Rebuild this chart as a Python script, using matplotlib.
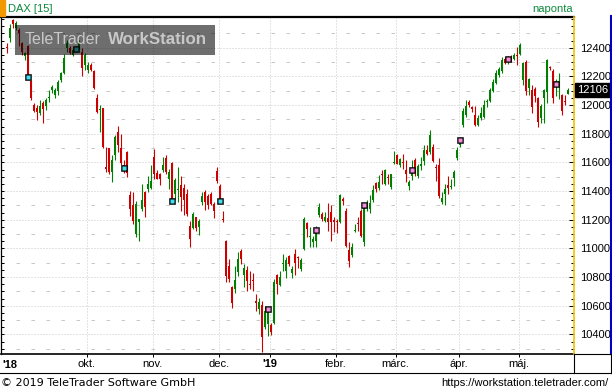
import numpy as np
import matplotlib
matplotlib.use("Agg")
import matplotlib.pyplot as plt
from matplotlib.patches import Rectangle
from matplotlib.lines import Line2D
from matplotlib.ticker import MultipleLocator, FixedLocator
from matplotlib.transforms import blended_transform_factory

# DAX napi gyertyak (index = kereskedesi nap), a kepről leolvasva
opens = [12405, 12467, 12596, 12540, 12525, 12432, 12345, 12409, 12170, 12000,
         11979, 11946, 12016, 11995, 12047, 12105, 12070, 12098, 12175, 12222,
         12397, 12397, 12350, 12380, 12397, 12373, 12280, 12245, 12280, 12238,
         12047, 11968, 11977, 11568, 11697, 11533, 11650, 11813, 11697, 11580,
         11673, 11369, 11299, 11101, 11182, 11276, 11392, 11416, 11423, 11638,
         11526, 11516, 11545, 11627, 11486, 11596, 11381, 11404, 11439, 11423,
         11381, 11159, 11143, 11217, 11147, 11320, 11390, 11362, 11376, 11311,
         11537, 11432, 11208, 11054, 10879, 10727, 10716, 10832, 10980, 10816,
         10849, 10748, 10776, 10630, 10575, 10605, 10451, 10472, 10465, 10481,
         10813, 10744, 10890, 10844, 10949, 10825, 10960, 10940, 10856, 10996,
         11175, 11080, 11042, 11049, 11236, 11241, 11194, 11213, 11252, 11199,
         11187, 11182, 11346, 11264, 10989, 10956, 11120, 11175, 11260, 11042,
         11283, 11276, 11339, 11456, 11423, 11514, 11446, 11497, 11428, 11593,
         11650, 11580, 11598, 11549, 11432, 11502, 11615, 11502, 11572, 11610,
         11685, 11673, 11708, 11566, 11580, 11322, 11376, 11439, 11426, 11494,
         11627, 11720, 11860, 11930, 12023, 11988, 11930, 11860, 11907, 11918,
         12020, 12030, 12100, 12152, 12210, 12240, 12320, 12300, 12327, 12318,
         12345, 12357, 12175, 12303, 12117, 12105, 12110, 12047, 11907, 12047,
         12093, 12260, 12240, 12133, 12126, 12070, 12026, 12080]
highs = [12430, 12566, 12603, 12585, 12535, 12443, 12373, 12420, 12175, 12014,
         12000, 12035, 12028, 12049, 12105, 12140, 12119, 12175, 12233, 12357,
         12456, 12409, 12400, 12410, 12456, 12400, 12364, 12303, 12295, 12245,
         12077, 12000, 11981, 11708, 11700, 11650, 11790, 11853, 11797, 11615,
         11678, 11397, 11392, 11327, 11208, 11446, 11397, 11502, 11580, 11692,
         11545, 11526, 11638, 11650, 11552, 11603, 11493, 11565, 11502, 11446,
         11416, 11194, 11255, 11222, 11208, 11392, 11404, 11376, 11392, 11320,
         11568, 11446, 11264, 11061, 10928, 10739, 10879, 10972, 10996, 10891,
         10879, 10844, 10825, 10681, 10652, 10633, 10598, 10587, 10481, 10786,
         10820, 10844, 10960, 10937, 10956, 10879, 10996, 10949, 10933, 11218,
         11182, 11150, 11089, 11157, 11315, 11252, 11252, 11313, 11299, 11222,
         11206, 11376, 11357, 11283, 11042, 11035, 11171, 11217, 11276, 11299,
         11334, 11369, 11439, 11463, 11509, 11545, 11556, 11521, 11521, 11680,
         11657, 11627, 11657, 11615, 11479, 11615, 11627, 11587, 11638, 11720,
         11720, 11825, 11727, 11591, 11627, 11392, 11446, 11502, 11486, 11549,
         11708, 11778, 11979, 12035, 12035, 11993, 11993, 11930, 11984, 12035,
         12040, 12117, 12180, 12245, 12268, 12334, 12334, 12340, 12350, 12362,
         12404, 12436, 12303, 12315, 12187, 12140, 12128, 12058, 12007, 12110,
         12320, 12273, 12250, 12180, 12220, 12077, 12070, 12119]
lows = [12360, 12440, 12540, 12520, 12410, 12350, 12315, 12190, 12035, 11951,
        11895, 11930, 11874, 11965, 12023, 12084, 12049, 12070, 12163, 12215,
        12373, 12355, 12340, 12370, 12390, 12200, 12245, 12222, 12235, 12112,
        11946, 11809, 11697, 11533, 11521, 11462, 11615, 11672, 11580, 11525,
        11498, 11229, 11171, 11077, 11054, 11264, 11217, 11392, 11416, 11486,
        11481, 11439, 11533, 11521, 11416, 11315, 11346, 11322, 11264, 11236,
        11229, 11012, 11136, 11119, 11096, 11299, 11271, 11278, 11299, 11210,
        11458, 11315, 11182, 10762, 10762, 10587, 10692, 10809, 10891, 10732,
        10700, 10715, 10704, 10563, 10544, 10278, 10437, 10388, 10395, 10470,
        10680, 10737, 10839, 10792, 10879, 10792, 10816, 10863, 10844, 10989,
        11082, 11006, 11006, 11007, 11222, 11194, 11182, 11124, 11054, 11112,
        11105, 11175, 11299, 11010, 10867, 10942, 11115, 11124, 11077, 11019,
        11264, 11245, 11322, 11392, 11404, 11451, 11439, 11451, 11416, 11587,
        11587, 11568, 11556, 11462, 11409, 11474, 11502, 11493, 11545, 11580,
        11650, 11661, 11603, 11470, 11353, 11311, 11299, 11376, 11416, 11432,
        11615, 11710, 11848, 11918, 11984, 11953, 11855, 11853, 11895, 11907,
        11984, 12023, 12093, 12147, 12198, 12226, 12287, 12285, 12303, 12315,
        12280, 12350, 12140, 12070, 12070, 11946, 12023, 11844, 11876, 11872,
        12017, 12245, 12012, 12065, 12040, 11930, 12000, 12080]
closes = [12395, 12540, 12566, 12572, 12502, 12373, 12362, 12210, 12047, 11958,
          11953, 11995, 11972, 12035, 12058, 12128, 12105, 12163, 12222, 12327,
          12432, 12362, 12385, 12395, 12432, 12257, 12350, 12280, 12245, 12121,
          11953, 11975, 11708, 11556, 11533, 11615, 11778, 11720, 11596, 11560,
          11526, 11276, 11194, 11311, 11208, 11334, 11288, 11446, 11470, 11521,
          11486, 11486, 11580, 11533, 11533, 11346, 11474, 11416, 11357, 11334,
          11241, 11066, 11241, 11143, 11194, 11362, 11320, 11299, 11311, 11259,
          11470, 11346, 11201, 10809, 10786, 10622, 10779, 10925, 10926, 10863,
          10774, 10741, 10774, 10622, 10628, 10381, 10563, 10570, 10418, 10762,
          10751, 10801, 10895, 10919, 10890, 10856, 10895, 10933, 10919, 11206,
          11136, 11085, 11066, 11136, 11287, 11206, 11218, 11182, 11182, 11182,
          11182, 11369, 11330, 11019, 10909, 11012, 11124, 11171, 11089, 11287,
          11299, 11315, 11404, 11416, 11463, 11509, 11545, 11493, 11516, 11598,
          11591, 11620, 11594, 11516, 11462, 11526, 11533, 11572, 11586, 11685,
          11657, 11790, 11610, 11563, 11362, 11353, 11416, 11423, 11428, 11533,
          11685, 11755, 11960, 11993, 12000, 11970, 11860, 11907, 11942, 12000,
          12023, 12105, 12163, 12222, 12250, 12315, 12296, 12318, 12315, 12350,
          12343, 12420, 12296, 12100, 12180, 11984, 12063, 11883, 11993, 12105,
          12315, 12255, 12047, 12170, 12170, 11960, 12023, 12106]

month_pos = [26.5, 48.5, 70.5, 87.5, 109.5, 129.5, 150.5, 170.5]
month_labels = ["okt.", "nov.", "dec.", "'19", "febr.", "márc.", "ápr.", "máj."]

# esemeny-jelolok
events18_idx = [7, 23, 39, 55, 71]
events18_px = [12196, 12392, 11558, 11327, 11327]
events19_idx = [87, 103, 119, 135, 151, 167, 183]
events19_px = [10577, 11131, 11299, 11545, 11755, 12322, 12147]

last_price = 12106
price_labels = [10400, 10600, 10800, 11000, 11200, 11400, 11600, 11800,
                12000, 12200, 12400]

W, H = 612, 392
fig = plt.figure(figsize=(W / 100, H / 100), dpi=100)

def fx(px):
    return px / W

def fy(py):
    return 1 - py / H

ax = fig.add_axes([fx(1), fy(354), fx(574) - fx(1), fy(17) - fy(354)])
ax.set_xlim(-2.1, 189.0)
ax.set_ylim(10263, 12614)

# racs
for v in range(10400, 12401, 200):
    ax.axhline(v, color="#c8c8c8", lw=0.72, ls=(0, (1, 2)), zorder=0.5)
for v in range(10300, 12501, 200):
    ax.axhline(v, color="#c8c8c8", lw=0.72, ls=(0, (3.5, 11.5)), zorder=0.5)
for p in month_pos:
    ax.axvline(p, color="#c8c8c8", lw=0.72, ls=(0, (1, 2)), zorder=0.5)

# gyertyak
o = np.array(opens)
h = np.array(highs)
l = np.array(lows)
c = np.array(closes)
x = np.arange(len(o))
cols = np.where(c >= o, "#008000", "#cc0000")
ax.vlines(x, l, h, colors=cols, lw=0.8, zorder=2)
body = np.maximum(np.abs(c - o), 7)
ax.bar(x, body, bottom=np.minimum(o, c), width=0.78, color=cols, lw=0, zorder=3)

ax.plot(events18_idx, events18_px, "s", ms=3.9, mfc="black", mec="black", mew=0.4, zorder=4)
ax.plot(events18_idx, events18_px, "s", ms=2.3, mfc="#40e0f0", mec="none", zorder=5)
ax.plot(events19_idx, events19_px, "s", ms=3.9, mfc="black", mec="black", mew=0.4, zorder=4)
ax.plot(events19_idx, events19_px, "s", ms=2.3, mfc="#f490dc", mec="none", zorder=5)

# tengelyek
ax.yaxis.set_major_locator(MultipleLocator(50))
ax.tick_params(axis="y", which="both", direction="in", length=2.2, width=0.72,
               left=True, right=False, labelleft=False)
ax.set_xticks(month_pos, month_labels)
ax.tick_params(axis="x", direction="out", length=2.2, width=0.72, pad=1.2,
               labelsize=8)
for t in ax.get_xticklabels():
    t.set_family("Liberation Sans")
    if t.get_text().startswith("'"):
        t.set_fontweight("bold")
ax.spines["top"].set_linewidth(1.6)
ax.spines["bottom"].set_linewidth(1.2)
ax.spines["left"].set_linewidth(0.9)
ax.spines["right"].set_visible(False)

ax2 = ax.twinx()
ax2.set_ylim(ax.get_ylim())
ax2.yaxis.set_major_locator(FixedLocator(price_labels))
ax2.yaxis.set_minor_locator(MultipleLocator(50))
ax2.tick_params(axis="y", which="major", direction="in", length=3.4, width=0.72,
                pad=4.2, labelsize=8)
ax2.tick_params(axis="y", which="minor", direction="in", length=1.9, width=0.72)
for t in ax2.get_yticklabels():
    t.set_family("Liberation Sans")
for s in ["top", "bottom", "left"]:
    ax2.spines[s].set_visible(False)
ax2.spines["right"].set_color("#f2c200")
ax2.spines["right"].set_linewidth(1.2)

tr = blended_transform_factory(ax2.transAxes, ax2.transData)
ax2.text((577 - 1) / 573, last_price, str(last_price), transform=tr,
         ha="left", va="center", color="white", fontsize=8,
         family="Liberation Sans", clip_on=False,
         bbox=dict(boxstyle="square,pad=0.18", fc="black", ec="black"))

# keretek
line_kw = dict(transform=fig.transFigure, color="black", lw=0.8)
fig.add_artist(Line2D([fx(610.5)] * 2, [fy(16), fy(354)], color="#0000c8",
                      lw=1.5, transform=fig.transFigure))
fig.add_artist(Line2D([fx(574), fx(611)], [fy(354)] * 2, **line_kw))
fig.add_artist(Line2D([0, 1], [fy(373)] * 2, **line_kw))
fig.add_artist(Line2D([fx(574)] * 2, [fy(354), fy(373)], **line_kw))
fig.add_artist(Line2D([fx(611)] * 2, [fy(354), fy(373)], **line_kw))

# fejlec
fig.add_artist(Rectangle((0, fy(16)), fx(5), 16 / H, color="#f29a00",
                         transform=fig.transFigure))
fig.text(fx(8), fy(8.5), "DAX [15]", color="#0b8a3c", fontsize=8,
         family="Liberation Sans", va="center", ha="left")
fig.text(fx(532), fy(9), "naponta", color="#0b8a3c", fontsize=8,
         family="Liberation Sans", va="center", ha="left")
fig.text(fx(2), fy(365), "'18", fontsize=8, weight="bold",
         family="Liberation Sans", va="center", ha="left")

# lablec
fig.text(fx(1), fy(382.5), "\u00a9 2019 TeleTrader Software GmbH", fontsize=8,
         family="DejaVu Sans", va="center", ha="left")
fig.text(fx(609), fy(382.5), "https://workstation.teletrader.com/", fontsize=8,
         family="Liberation Sans", va="center", ha="right")

# vizjel
fig.add_artist(Rectangle((fx(15), fy(55)), fx(200), 30 / H, fc="black",
                         alpha=0.57, lw=0, transform=fig.transFigure, zorder=5))
wm1 = fig.text(fx(25), fy(40), "TeleTrader", color="#c8c8c8", fontsize=13,
               family="Liberation Sans", va="center", ha="left", zorder=6)
wm2 = fig.text(fx(108), fy(40), "WorkStation", color="#c8c8c8", fontsize=13,
               weight="bold", family="Liberation Sans", va="center", ha="left",
               zorder=6)
r = fig.canvas.get_renderer()
for t, wpx in [(wm1, 76), (wm2, 99)]:
    w = t.get_window_extent(r).width
    t.set_fontsize(t.get_fontsize() * wpx / w)

fig.savefig("out.png", dpi=100)
